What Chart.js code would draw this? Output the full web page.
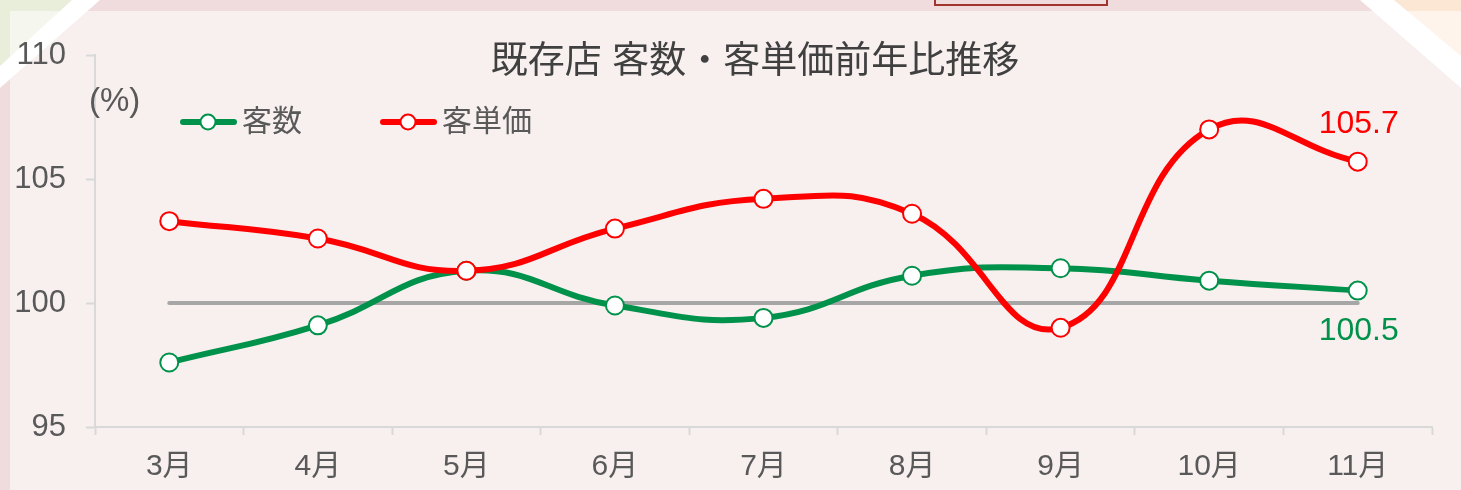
<!DOCTYPE html>
<html>
<head>
<meta charset="utf-8">
<script src="https://cdn.jsdelivr.net/npm/chart.js@4.4.1/dist/chart.umd.min.js"></script>
<style>
  html, body { margin: 0; padding: 0; }
  body { width: 1461px; height: 490px; overflow: hidden; position: relative; background: #f0dcdc; }
  #deco { position: absolute; left: 0; top: 0; }
  #wrap { position: absolute; left: 0; top: 0; width: 1461px; height: 490px; }
</style>
</head>
<body>
<svg id="deco" width="1461" height="490">
  <polygon points="0,0 74,0 0,68" fill="#e9eedb"/>
  <polygon points="1380,0 1461,0 1461,70" fill="#fce6d4"/>
  <rect x="10" y="11" width="1451" height="479" fill="rgba(255,255,255,0.55)"/>
  <polygon points="72,0 100,0 0,88 0,66" fill="#ffffff"/>
  <polygon points="1360,0 1394,0 1461,56 1461,88" fill="#ffffff"/>
  <rect x="935" y="-10" width="172" height="15" fill="none" stroke="#a3332f" stroke-width="2"/>
</svg>
<div id="wrap"><canvas id="chart" width="1461" height="490"></canvas></div>
<script>
// 既存店 客数・客単価前年比推移 (%)
const months = ["3月", "4月", "5月", "6月", "7月", "8月", "9月", "10月", "11月"];
const kyakusu = [97.6, 99.1, 101.3, 99.9, 99.4, 101.1, 101.4, 100.9, 100.5];
const kyakutanka = [103.3, 102.6, 101.3, 103.0, 104.2, 103.6, 99.0, 107.0, 105.7];
const baseline = [100, 100, 100, 100, 100, 100, 100, 100, 100];
const yTicks = [95, 100, 105, 110];

const FONT = '"Liberation Sans", "Noto Sans CJK JP", sans-serif';
const GREEN = "#00924a";
const RED = "#ff0000";
const GRAY_AXIS = "#d9d9d9";

// title, legend, unit and end labels drawn on top of the chart
const overlay = {
  id: "overlay",
  afterDraw(chart) {
    const ctx = chart.ctx;
    ctx.save();
    ctx.textBaseline = "middle";

    ctx.fillStyle = "#404040";
    ctx.font = "37px " + FONT;
    ctx.textAlign = "center";
    ctx.fillText("既存店 客数・客単価前年比推移", 755, 63);

    ctx.fillStyle = "#595959";
    ctx.font = "33px " + FONT;
    ctx.textAlign = "left";
    ctx.fillText("(%)", 89, 102);

    ctx.font = "30px " + FONT;
    const items = [
      { label: "客数", color: GREEN, x: 180 },
      { label: "客単価", color: RED, x: 380 },
    ];
    items.forEach((it) => {
      const y = 122;
      ctx.strokeStyle = it.color;
      ctx.lineWidth = 6;
      ctx.lineCap = "round";
      ctx.beginPath();
      ctx.moveTo(it.x + 3, y);
      ctx.lineTo(it.x + 54, y);
      ctx.stroke();
      ctx.beginPath();
      ctx.arc(it.x + 28, y, 7.5, 0, Math.PI * 2);
      ctx.fillStyle = "#ffffff";
      ctx.fill();
      ctx.lineWidth = 2;
      ctx.stroke();
      ctx.fillStyle = "#595959";
      ctx.fillText(it.label, it.x + 62, y + 1);
    });

    // value labels on the last month
    const last = months.length - 1;
    const redPt = chart.getDatasetMeta(0).data[last];
    const greenPt = chart.getDatasetMeta(1).data[last];
    ctx.textAlign = "center";
    ctx.font = "32px " + FONT;
    ctx.fillStyle = RED;
    ctx.fillText(kyakutanka[last].toFixed(1), redPt.x + 1, redPt.y - 37);
    ctx.fillStyle = GREEN;
    ctx.fillText(kyakusu[last].toFixed(1), greenPt.x + 1, greenPt.y + 41);
    ctx.restore();
  },
};

const pointStyle = (color) => ({
  borderColor: color,
  borderWidth: 6,
  pointRadius: 9,
  pointBorderWidth: 2,
  pointBackgroundColor: "#ffffff",
  pointBorderColor: color,
  tension: 0.45,
});

new Chart(document.getElementById("chart"), {
  type: "line",
  data: {
    labels: months,
    datasets: [
      { label: "客単価", data: kyakutanka, ...pointStyle(RED) },
      { label: "客数", data: kyakusu, ...pointStyle(GREEN) },
      {
        label: "基準",
        data: baseline,
        borderColor: "#a6a6a6",
        borderWidth: 4,
        borderCapStyle: "round",
        pointRadius: 0,
        tension: 0,
      },
    ],
  },
  options: {
    responsive: false,
    animation: false,
    events: [],
    layout: { padding: { left: 0, right: 29, top: 55, bottom: 0 } },
    plugins: {
      legend: { display: false },
      title: { display: false },
      tooltip: { enabled: false },
    },
    scales: {
      x: {
        offset: true,
        grid: {
          offset: true,
          drawOnChartArea: false,
          drawTicks: true,
          tickLength: 8,
          tickColor: GRAY_AXIS,
          tickWidth: 2,
        },
        border: { color: GRAY_AXIS, width: 2 },
        ticks: { color: "#595959", font: { family: FONT, size: 30 }, padding: 14 },
        afterFit: (scale) => { scale.height = 63; },
      },
      y: {
        min: 95,
        max: 110,
        afterBuildTicks: (scale) => { scale.ticks = yTicks.map((v) => ({ value: v })); },
        grid: {
          drawOnChartArea: false,
          drawTicks: true,
          tickLength: 9,
          tickColor: GRAY_AXIS,
          tickWidth: 2,
        },
        border: { color: GRAY_AXIS, width: 2 },
        ticks: { color: "#595959", font: { family: FONT, size: 31 }, padding: 20 },
        afterFit: (scale) => { scale.width = 95; },
      },
    },
  },
  plugins: [overlay],
});
</script>
</body>
</html>
